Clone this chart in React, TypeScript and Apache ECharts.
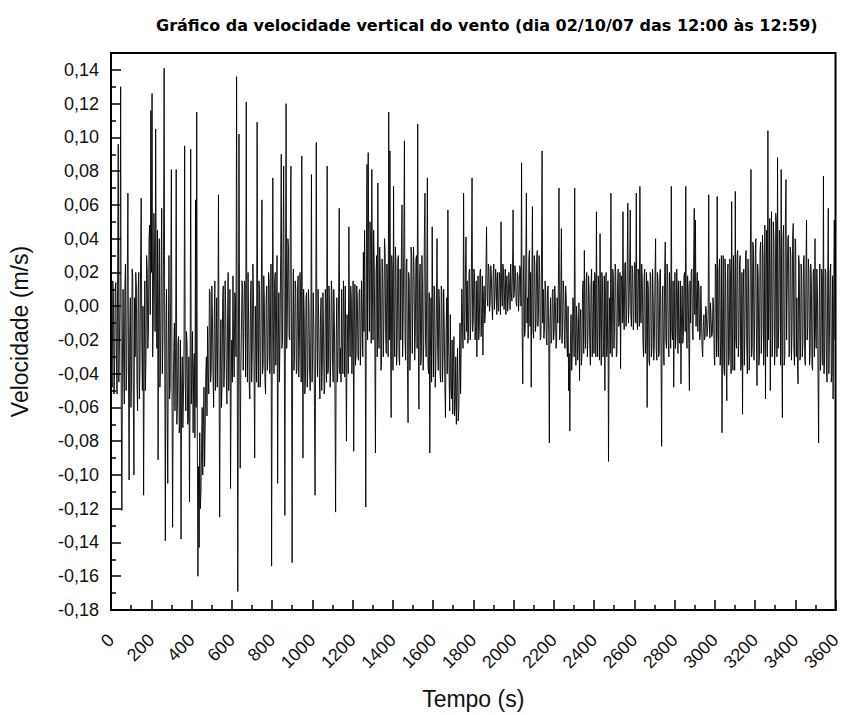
import React, { useEffect, useRef } from "react";
import * as echarts from "echarts";

// Vertical wind velocity, in thousandths of m/s (mm/s).
// "A" arrays: samples at t = 6·i s ; "B" arrays: samples at t = 6·i + 3 s.
const STEP_S = 6;
const HALF_S = 3;

const velA_0000 = [
  -12, -48, 8, -35, 14, -52, 96, -20, 130, -121,
  10, -58, 25, -40, 67, -103, 5, -45, 18, -100,
  -30, 12, -62, 20, -38, 64, -50, -112, 15, -28,
  22, -15, 48, 116, 126, -10, 35, 105, -25, -91,
  40, -35, 58, -20, 141, -139, 10, -105, 30, -48,
  81, -131, -25, -62, 81, -58, -18, -70, -138, -30,
  -55, 95, -62, -22, -68, -116, 93, -40, -75, -28,
  63, 115, -160, -143, -120, -85, -100, -48, -72, -30,
  -12, -52, 8, -38, -5, -60, 15, -30, -48, 66,
  -125, -8, -45, 12, -35, -2, -58, 20, -25, -108,
];
const velB_0000 = [
  -40, 15, -52, 10, -30, 20, -45, 5, -60, -30,
  -35, 12, -50, 18, -42, -15, -60, 22, -58, 5,
  20, -45, 10, -55, 25, -20, 0, -35, -50, 30,
  -25, 40, -5, 20, -30, 55, -15, 10, 45, 5,
  -48, 20, -40, 30, -25, -15, -60, -20, -55, 20,
  -45, -60, -10, -25, -70, -22, -75, -20, -50, -72,
  -20, -45, -15, -70, -30, -48, -58, -15, -35, -78,
  -60, -80, -95, -75, -110, -60, -70, -95, -40, -65,
  -40, 10, -45, 12, -42, -8, -50, 5, -15, -38,
  -40, -60, 5, -48, 15, -42, -10, -50, 10, -45,
];
const velA_0600 = [
  -20, 18, -42, 5, 136, -169, 102, -96, -15, 10,
  -38, 12, 121, -45, -10, -55, 15, -28, 8, -90,
  -22, 109, -48, 10, -40, 63, -35, 2, -52, 12,
  -30, 15, -18, -154, 76, -40, 20, -12, -105, 8,
  -15, 90, -22, 83, -124, 120, -8, 35, -20, 83,
  -152, 22, -30, 10, -38, 18, -25, 5, 89, -90,
  -5, -45, 8, -38, -2, -50, 78, -30, -12, -112,
  97, -42, -8, -55, 5, -35, -15, -48, 2, 83,
  -38, 0, -30, 8, -45, -10, -122, 5, -35, 58,
  -25, 10, -40, -5, 12, -80, -22, 47, -30, 6,
];
const velB_0600 = [
  -45, -25, 8, -30, -20, -35, -10, -40, 15, -38,
  15, -42, -15, 20, -48, 5, -45, 25, -40, 0,
  -45, -20, 15, -48, 12, -40, 18, -45, 5, -38,
  20, -40, 25, -30, -15, 15, -35, 30, -25, -45,
  30, -25, 38, -15, 10, -25, 40, -18, 45, -30,
  -15, -38, 15, -40, 12, -42, 20, -45, -20, 10,
  -52, 5, -48, 10, -40, -15, -45, 8, -60, -20,
  -15, 10, -40, -5, -50, 8, -52, 10, -45, -40,
  12, -48, 15, -35, 10, -55, -20, -45, 8, -40,
  -45, -20, 15, -42, -30, -5, -40, -10, 12, -40,
];
const velA_1200 = [
  -18, -86, 13, -28, 5, -32, 10, -22, -5, 32,
  45, -119, 84, 91, -15, 38, 81, -20, 25, -87,
  30, 73, -25, 22, -35, 18, -10, 33, -28, 12,
  115, 92, -66, 20, 71, -30, 25, -22, 30, -35,
  -20, 60, -5, 98, -32, 28, -69, 15, -25, 30,
  -28, 20, -18, 30, 108, -61, 25, -30, 10, -22,
  67, -30, 76, -40, -87, 5, 47, -42, 10, -35,
  40, -38, 2, -45, 8, -30, -12, -66, 5, 57,
  -40, -5, -55, -64, -18, -58, -70, -25, -62, -10,
  -23, -5, 67, -20, 41, 15, -18, 22, -10, 76,
];
const velB_1200 = [
  15, -10, -35, 12, -30, 8, -35, 15, -30, -15,
  -10, 30, -20, 25, 50, -22, 10, 45, -25, 20,
  -30, -15, 35, -38, 28, -30, 40, -20, 25, -30,
  -20, -10, 30, -38, -15, 35, -35, 28, -30, 22,
  32, -30, 38, -20, 25, -35, 20, -38, 35, -28,
  35, -32, 28, -25, -20, 15, -35, 30, -38, 40,
  -20, 15, -35, 8, -30, -45, -10, 12, -48, 0,
  -25, 10, -40, 12, -45, 10, -48, -15, -40, -20,
  -62, -48, -20, -35, -65, -30, -45, -68, -35, -52,
  10, -25, -8, 18, -15, -22, 20, -20, 25, -15,
];
const velA_1800 = [
  -8, 20, -12, -30, 18, -15, 22, -5, -29, 12,
  -5, 47, 0, 22, 2, 18, -8, 25, 5, 15,
  20, -3, 15, 50, 0, 22, 8, -5, 18, 4,
  12, 25, 3, 57, 8, 20, 0, 18, 5, 22,
  85, -46, 30, -15, 67, 5, 28, -12, -48, 59,
  -19, 25, -10, 33, -5, 20, -18, 92, 10, -12,
  8, -23, 12, -81, 5, -20, 10, -15, 3, -22,
  -10, 70, -18, 46, -12, 8, -25, 5, -30, -50,
  -74, -5, -28, 0, 70, -35, -8, -20, -44, -2,
  -30, 15, 33, -25, 20, -18, 8, -35, 22, -12,
];
const velB_1800 = [
  22, -20, 15, 5, -20, 20, -18, 18, 5, -10,
  20, 5, 25, -3, 24, 0, 20, -2, 22, -5,
  0, 20, -5, 10, 25, -2, 22, 15, -3, 20,
  -2, 8, 22, 5, 24, 2, 20, -3, 24, 0,
  -15, 15, -18, 25, -10, -19, 33, 20, 10, -15,
  30, -15, 28, -12, 30, -20, 25, -10, -19, 15,
  -20, 10, -18, -10, -22, 8, -20, 12, -25, 5,
  12, -20, 10, -22, 15, -20, 12, -22, 0, -28,
  -20, -38, 5, -30, -15, 0, -32, 2, -10, -35,
  10, -28, -10, 15, -30, 18, -25, 12, -30, 15,
];
const velA_2400 = [
  -28, 18, 56, -30, 10, 43, -35, 15, -22, -50,
  20, -25, -92, 5, 67, -30, 18, -12, 20, -28,
  22, -10, -37, 15, 56, -14, 26, -5, 61, 0,
  57, -12, 20, -8, 25, 67, -14, 18, 71, -10,
  15, -30, 22, -20, -60, 10, -35, 18, -25, 5,
  -20, 40, -32, 15, -28, 22, -83, 12, -35, 38,
  -25, 18, -30, 10, 71, -20, -48, 20, -15, 8,
  15, -22, -46, 12, -18, 20, 71, -25, 10, -50,
  -10, 22, -20, 58, 51, 5, -15, 10, -18, -5,
  -30, -5, -18, -2, -15, 66, -19, -8, -16, 0,
];
const velB_2400 = [
  20, -30, -15, 18, -32, -10, 20, -30, 18, 5,
  -30, 15, -20, -28, -10, 22, -25, 25, -30, 12,
  -12, 20, 18, -10, -5, 25, -12, 24, -10, 22,
  -5, 24, -14, 26, -10, -8, 22, -12, -5, 25,
  -20, 18, -28, 20, 15, -32, 20, -30, 22, -32,
  18, -25, 20, -30, 20, -30, 5, -28, 20, -20,
  25, -22, 20, -25, -15, 15, -10, -25, 22, -28,
  -20, 15, -5, -22, 18, -15, -10, 18, -22, 15,
  20, -15, 25, -5, -12, 20, 15, -20, 12, -25,
  -12, -20, 0, -18, -5, -10, 2, -18, 5, -30,
];
const velA_3000 = [
  -35, 20, 65, -30, 28, -20, -75, 30, -41, 15,
  -56, 25, -30, 18, 62, -38, 10, 68, -25, 33,
  -20, 30, -35, -64, 22, -15, 33, -40, 12, -28,
  81, -25, 35, -10, 40, -47, 18, -30, 38, -15,
  30, -20, -55, 45, 104, 10, -50, 56, -15, 40,
  -25, 50, 88, -10, 35, 81, -66, 48, -30, 75,
  -20, 42, -28, 30, -15, 49, -35, 38, 5, -46,
  25, -30, 18, -22, 30, -35, 51, -12, 20, -28,
  15, -38, 22, 40, -25, 12, -81, 25, -30, 18,
  77, -30, 20, -45, 58, -15, 25, -40, -55, 51,
];
const velB_3000 = [
  25, -30, -15, 22, -35, 30, -10, -35, 28, -38,
  20, -35, 28, -40, -10, 30, -38, -20, 30, -30,
  25, -38, 20, 5, -35, 30, -25, 28, -38, 35,
  -30, 38, -32, 30, -20, 25, -35, 32, -28, 42,
  -35, 48, 20, -30, -20, 52, 20, -30, 50, -35,
  55, -30, -25, 45, -35, -20, 40, -35, 52, -20,
  40, -30, 35, -32, 42, -25, 40, -30, -35, 30,
  -32, 25, -30, 28, -30, 22, -20, 28, -35, 25,
  -35, 20, -30, -15, 22, -40, 0, -38, 22, -35,
  -40, 22, -38, 15, -40, 20, -45, 18, 10, -20,
];

const TITLE = "Gráfico da velocidade vertical do vento (dia 02/10/07 das 12:00 às 12:59)";
const X_NAME = "Tempo (s)";
const Y_NAME = "Velocidade (m/s)";
const FONT = "'Liberation Sans', Arial, Helvetica, sans-serif";
const TITLE_FONT = "'DejaVu Sans', 'Liberation Sans', Arial, sans-serif";

export default function App() {
  const ref = useRef<HTMLDivElement>(null);
  useEffect(() => {
    if (!ref.current) return;
    const chart = echarts.init(ref.current, undefined, { renderer: "svg" });
    const a = [...velA_0000, ...velA_0600, ...velA_1200, ...velA_1800, ...velA_2400, ...velA_3000];
    const b = [...velB_0000, ...velB_0600, ...velB_1200, ...velB_1800, ...velB_2400, ...velB_3000];
    const data: number[][] = [];
    for (let i = 0; i < a.length; i++) {
      data.push([i * STEP_S, a[i] / 1000]);
      if (i < b.length) data.push([i * STEP_S + HALF_S, b[i] / 1000]);
    }
    chart.setOption({
      animation: false,
      backgroundColor: "#fff",
      title: {
        text: TITLE,
        left: 151,
        top: 12,
        textStyle: { fontSize: 16, fontWeight: "bold", color: "#000", fontFamily: TITLE_FONT },
      },
      grid: {
        left: 110,
        right: 7,
        top: 53,
        bottom: 105,
        show: true,
        borderColor: "#000",
        borderWidth: 2,
        backgroundColor: "transparent",
      },
      xAxis: {
        type: "value",
        min: 0,
        max: 3600,
        interval: 200,
        name: X_NAME,
        nameLocation: "middle",
        nameGap: 77,
        nameTextStyle: { fontSize: 23, color: "#111", fontFamily: FONT },
        axisLine: { show: true, onZero: false, lineStyle: { color: "#000", width: 2 } },
        axisTick: { show: true, inside: true, length: 10, lineStyle: { color: "#000", width: 1.5 } },
        minorTick: { show: true, splitNumber: 2, length: 5, lineStyle: { color: "#000", width: 1.5 } },
        splitLine: { show: false },
        axisLabel: {
          rotate: 45,
          margin: 27,
          fontSize: 18,
          color: "#111",
          fontFamily: FONT,
          formatter: (v: number) => String(Math.round(v)),
        },
      },
      yAxis: {
        type: "value",
        min: -0.18,
        max: 0.15,
        interval: 0.02,
        name: Y_NAME,
        nameLocation: "middle",
        nameGap: 80,
        nameTextStyle: { fontSize: 23, color: "#111", fontFamily: FONT },
        axisLine: { show: true, onZero: false, lineStyle: { color: "#000", width: 2 } },
        axisTick: { show: true, inside: true, length: 10, lineStyle: { color: "#000", width: 1.5 } },
        minorTick: { show: true, splitNumber: 2, length: 5, lineStyle: { color: "#000", width: 1.5 } },
        splitLine: { show: false },
        axisLabel: {
          margin: 12,
          fontSize: 18,
          color: "#111",
          fontFamily: FONT,
          showMaxLabel: false,
          formatter: (v: number) => (Math.abs(v - 0.15) < 1e-6 ? "" : v.toFixed(2).replace(".", ",")),
        },
      },
      series: [
        {
          type: "line",
          data,
          showSymbol: false,
          symbol: "none",
          lineStyle: { color: "#000", width: 0.9 },
          silent: true,
        },
      ],
    });
    return () => chart.dispose();
  }, []);
  return (
    <div
      ref={ref}
      style={{ position: "absolute", left: 0, top: 0, width: 844, height: 715 }}
    />
  );
}
